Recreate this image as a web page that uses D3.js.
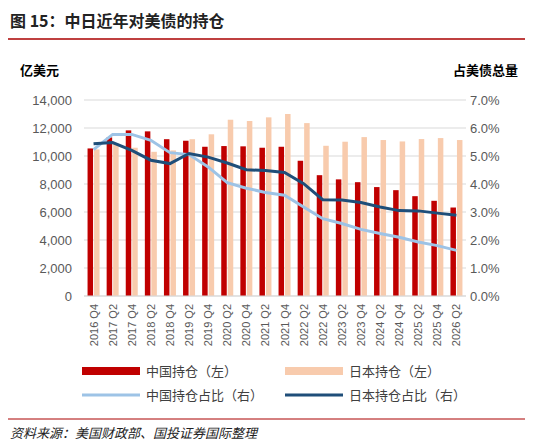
<!DOCTYPE html>
<html><head><meta charset="utf-8">
<script src="https://cdn.jsdelivr.net/npm/d3@7"></script>
<style>body{margin:0;background:#fff;font-family:"Noto Sans CJK SC","Noto Sans",sans-serif}</style>
</head><body><svg width="533" height="447"></svg>
<script>
var categories = ["2016 Q4","2017 Q2","2017 Q4","2018 Q2","2018 Q4","2019 Q2","2019 Q4","2020 Q2","2020 Q4","2021 Q2","2021 Q4","2022 Q2","2022 Q4","2023 Q2","2023 Q4","2024 Q2","2024 Q4","2025 Q2","2025 Q4","2026 Q2"]
var chinaHold = [10540,11330,11830,11760,11200,11090,10660,10710,10690,10590,10660,9660,8630,8330,8130,7780,7560,7130,6800,6320]
var japanHold = [10470,10900,10590,10300,10400,11200,11550,12590,12500,12760,13000,12350,10730,11020,11350,11140,11040,11210,11280,11140]
var chinaShare = [5.23,5.77,5.77,5.56,5.12,5.05,4.61,4.05,3.85,3.70,3.60,3.18,2.76,2.59,2.38,2.23,2.10,1.93,1.80,1.63]
var japanShare = [5.44,5.48,5.20,4.85,4.73,5.09,4.96,4.75,4.51,4.48,4.41,4.01,3.44,3.43,3.34,3.18,3.05,3.04,2.96,2.88]
var leftTicks = [0,2000,4000,6000,8000,10000,12000,14000]
var rightTicks = [0,1,2,3,4,5,6,7]

var svg = d3.select("svg")
var pLeft = 84, pRight = 466, pTop = 100, pBottom = 296

svg.append("text").attr("x",10).attr("y",27).attr("font-size",16).attr("font-weight","bold").attr("fill","#222").text("图 15：中日近年对美债的持仓")
svg.append("line").attr("x1",8).attr("x2",525).attr("y1",39).attr("y2",39).attr("stroke","#a00").attr("stroke-width",1.5)
svg.append("text").attr("x",20).attr("y",75).attr("font-size",13).attr("font-weight","bold").text("亿美元")
svg.append("text").attr("x",518).attr("y",75).attr("font-size",13).attr("font-weight","bold").attr("text-anchor","end").text("占美债总量")

var x = d3.scaleBand().domain(categories).range([pLeft,pRight])
var yL = d3.scaleLinear().domain([0,14000]).range([pBottom,pTop])
var yR = d3.scaleLinear().domain([0,7]).range([pBottom,pTop])

svg.append("g").selectAll("line").data(leftTicks).enter().append("line")
    .attr("x1",pLeft).attr("x2",pRight).attr("y1",d=>yL(d)).attr("y2",d=>yL(d))
    .attr("stroke","#d9d9d9")

svg.append("g").selectAll("text").data(leftTicks).enter().append("text")
    .attr("x",72).attr("y",d=>yL(d)+5).attr("text-anchor","end").attr("font-size",13).attr("fill","#595959")
    .attr("font-family","Liberation Sans,Arial").text(d=>d3.format(",")(d))
svg.append("g").selectAll("text").data(rightTicks).enter().append("text")
    .attr("x",470).attr("y",d=>yR(d)+5).attr("font-size",13).attr("fill","#595959")
    .attr("font-family","Liberation Sans,Arial").text(d=>d.toFixed(1)+"%")

var bw = 5.5
svg.append("g").selectAll("rect").data(japanHold).enter().append("rect")
    .attr("x",(d,i)=>x(categories[i])+x.bandwidth()/2+0.5).attr("width",bw)
    .attr("y",d=>yL(d)).attr("height",d=>pBottom-yL(d)).attr("fill","#f8cbad")
svg.append("g").selectAll("rect").data(chinaHold).enter().append("rect")
    .attr("x",(d,i)=>x(categories[i])+x.bandwidth()/2-bw-0.5).attr("width",bw)
    .attr("y",d=>yL(d)).attr("height",d=>pBottom-yL(d)).attr("fill","#c00000")

var line = d3.line().x((d,i)=>x(categories[i])+x.bandwidth()/2).y(d=>yR(d))
svg.append("path").datum(chinaShare).attr("d",line).attr("fill","none").attr("stroke","#9dc3e6").attr("stroke-width",3)
svg.append("path").datum(japanShare).attr("d",line).attr("fill","none").attr("stroke","#1f4e79").attr("stroke-width",3)

svg.append("line").attr("x1",pLeft).attr("x2",pRight).attr("y1",pBottom).attr("y2",pBottom).attr("stroke","#d9d9d9")

svg.append("g").selectAll("text").data(categories).enter().append("text")
    .attr("transform",d=>"translate("+(x(d)+x.bandwidth()/2+4)+",304) rotate(-90)")
    .attr("text-anchor","end").attr("font-size",11).attr("fill","#595959")
    .attr("font-family","Liberation Sans,Arial").text(d=>d)

var legend = [
    {name:"中国持仓（左）",color:"#c00000",type:"rect",x:82,y:371},
    {name:"日本持仓（左）",color:"#f8cbad",type:"rect",x:285,y:371},
    {name:"中国持仓占比（右）",color:"#9dc3e6",type:"line",x:82,y:395},
    {name:"日本持仓占比（右）",color:"#1f4e79",type:"line",x:285,y:395}
]
legend.forEach(function(l){
    if(l.type=="rect")
        svg.append("rect").attr("x",l.x).attr("y",l.y-4).attr("width",58).attr("height",8).attr("fill",l.color)
    else
        svg.append("line").attr("x1",l.x).attr("x2",l.x+58).attr("y1",l.y).attr("y2",l.y).attr("stroke",l.color).attr("stroke-width",3)
    svg.append("text").attr("x",l.x+64).attr("y",l.y+5).attr("font-size",13).attr("fill","#404040").text(l.name)
})

svg.append("line").attr("x1",8).attr("x2",525).attr("y1",419).attr("y2",419).attr("stroke","#a00").attr("stroke-width",1)
svg.append("text").attr("x",10).attr("y",438).attr("font-size",13).attr("font-style","italic").attr("fill","#222").text("资料来源：美国财政部、国投证券国际整理")
</script></body></html>
